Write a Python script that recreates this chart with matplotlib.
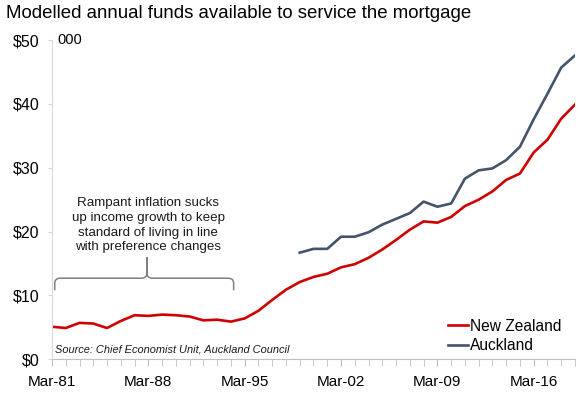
import numpy as np
import matplotlib
matplotlib.use("Agg")
import matplotlib.pyplot as plt
from matplotlib.path import Path
from matplotlib.patches import PathPatch

plt.rcParams['font.family'] = ['Liberation Sans', 'DejaVu Sans']

years = list(range(1981, 2020))
tick_labels = ['Mar-81', 'Mar-88', 'Mar-95', 'Mar-02', 'Mar-09', 'Mar-16']

nz = [5.1, 4.9, 5.7, 5.6, 4.9, 6.0, 6.9, 6.8, 7.0, 6.9, 6.7, 6.1, 6.2, 5.9, 6.4,
      7.6, 9.3, 10.9, 12.1, 12.9, 13.4, 14.4, 14.9, 15.9, 17.2, 18.7, 20.3, 21.6,
      21.4, 22.3, 24.0, 25.0, 26.3, 28.1, 29.1, 32.4, 34.4, 37.7, 39.9]
# Auckland series starts in 1999
akl_start = 1999
akl = [16.7, 17.3, 17.3, 19.2, 19.2, 19.9, 21.1, 22.0, 22.9, 24.7, 23.9, 24.4,
       28.3, 29.6, 29.9, 31.2, 33.3, 37.6, 41.6, 45.7, 47.6]

red = '#D00000'
slate = '#44546A'

fig = plt.figure(figsize=(5.84, 3.97), dpi=100)
ax = fig.add_axes([0.089, 0.095, 0.8956, 0.804])

x_nz = np.arange(len(nz))
x_akl = np.arange(len(akl)) + (akl_start - years[0])
ax.plot(x_nz, nz, color=red, lw=1.9, label='New Zealand')
ax.plot(x_akl, akl, color=slate, lw=1.9, label='Auckland')

ax.set_xlim(0, len(years) - 1)
ax.set_ylim(0, 50)

ax.set_xticks(np.arange(0, len(years), 7))
ax.set_xticklabels(tick_labels, fontsize=11)
ax.set_xticks(np.arange(len(years)), minor=True)
ax.tick_params(axis='x', which='both', direction='out', length=5, color='#BFBFBF', pad=6)
ax.set_yticks(range(0, 51, 10))
ax.set_yticklabels([f'${v}' for v in range(0, 51, 10)], fontsize=11.5)
ax.tick_params(axis='y', direction='out', length=3, color='#D9D9D9', pad=6)

for s in ['top', 'right']:
    ax.spines[s].set_visible(False)
ax.spines['left'].set_color('#D9D9D9')
ax.spines['bottom'].set_color('#BFBFBF')

# curly brace over the inflation period
x0, x1, xm = 0.2, 13.2, 6.9
yb, yt, ytip = 10.8, 12.7, 16.0
r = 0.4
verts = [(x0, yb), (x0, yt - 0.8), (x0, yt), (x0 + r, yt),
         (xm - r, yt), (xm, yt), (xm, yt + 0.8), (xm, ytip),
         (xm, yt + 0.8), (xm, yt), (xm + r, yt),
         (x1 - r, yt), (x1, yt), (x1, yt - 0.8), (x1, yb)]
codes = [Path.MOVETO, Path.LINETO, Path.CURVE3, Path.CURVE3,
         Path.LINETO, Path.CURVE3, Path.CURVE3, Path.LINETO,
         Path.LINETO, Path.CURVE3, Path.CURVE3,
         Path.LINETO, Path.CURVE3, Path.CURVE3, Path.LINETO]
ax.add_patch(PathPatch(Path(verts, codes), fill=False, ec='#808080', lw=1.1))

ax.text(7.0, 21.0, 'Rampant inflation sucks\nup income growth to keep\nstandard of living in line\nwith preference changes',
        ha='center', va='center', fontsize=9.6, linespacing=1.3, color='#1a1a1a')

ax.text(0.25, 0.8, 'Source: Chief Economist Unit, Auckland Council', fontsize=7.9,
        style='italic', color='#1a1a1a', va='bottom')

ax.legend(loc='lower right', bbox_to_anchor=(1.0, -0.025), frameon=False, fontsize=11.2,
          handlelength=1.3, handletextpad=0.1, labelspacing=0.3)

fig.text(0.01, 0.965, 'Modelled annual funds available to service the mortgage',
         fontsize=13.4, va='center', ha='left')
fig.text(0.098, 0.899, '000', fontsize=10.5, va='center', ha='left')

fig.savefig('out.png', dpi=100)
